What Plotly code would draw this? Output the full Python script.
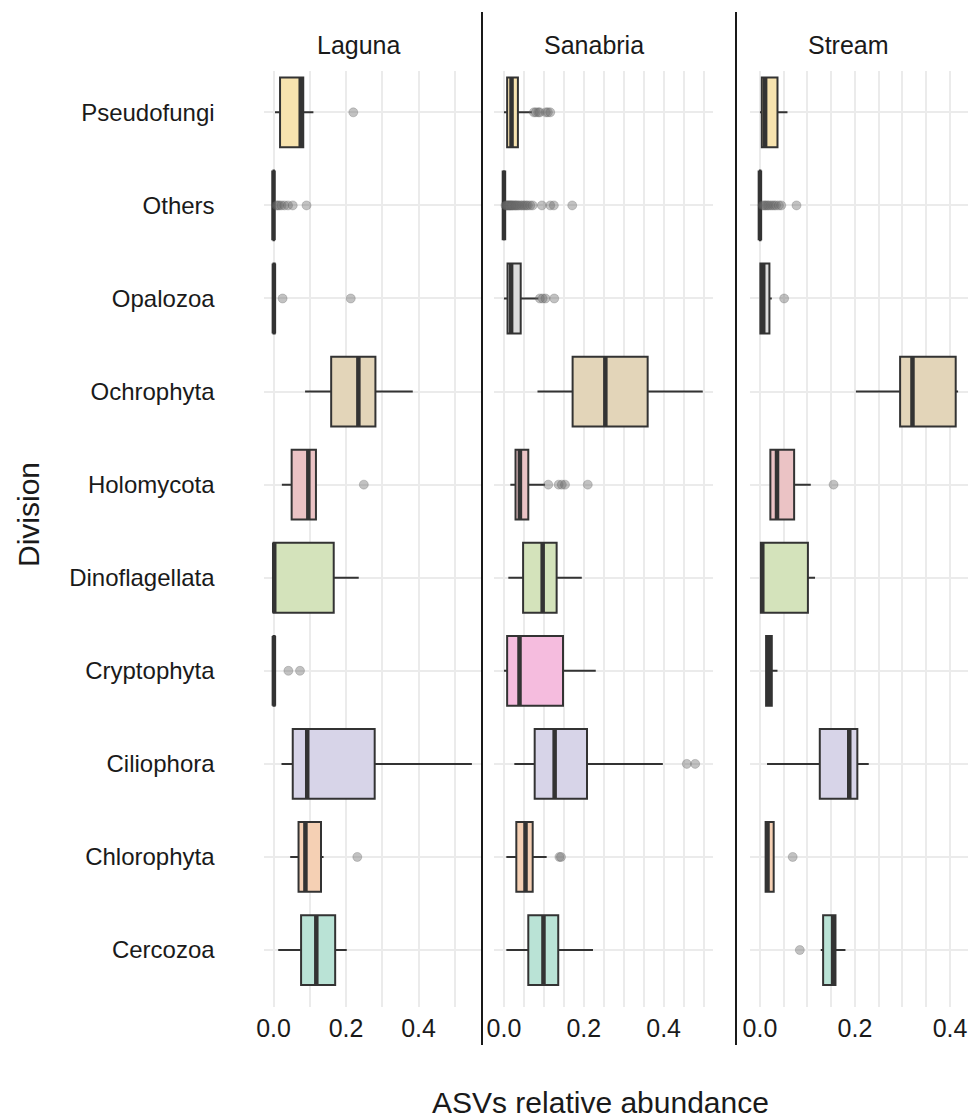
import plotly.graph_objects as go

# Categories (bottom -> top, as in the chart)
divisions = ["Cercozoa", "Chlorophyta", "Ciliophora", "Cryptophyta", "Dinoflagellata",
             "Holomycota", "Ochrophyta", "Opalozoa", "Others", "Pseudofungi"]
facets = ["Laguna", "Sanabria", "Stream"]
box_colors = ["#BAE3D6", "#F5D0B4", "#D7D4E8", "#F5BCDE", "#D4E3BB",
              "#EBC3C5", "#E3D5B9", "#DCDCDC", "#D0D0D0", "#F7E3AF"]

# ---- Laguna ----
laguna_low = [0.013, 0.046, 0.022, 0.000, 0.000, 0.023, 0.087, 0.000, 0.000, 0.004]
laguna_q1 = [0.076, 0.069, 0.053, 0.000, 0.000, 0.050, 0.159, 0.000, 0.000, 0.018]
laguna_med = [0.118, 0.088, 0.093, 0.001, 0.002, 0.096, 0.234, 0.001, 0.000, 0.075]
laguna_q3 = [0.170, 0.131, 0.279, 0.003, 0.166, 0.117, 0.281, 0.003, 0.001, 0.082]
laguna_high = [0.202, 0.138, 0.547, 0.005, 0.235, 0.117, 0.384, 0.005, 0.002, 0.110]
laguna_out = [[], [0.231], [], [0.041, 0.073], [], [0.249], [], [0.025, 0.213],
              [0.008, 0.012, 0.016, 0.022, 0.030, 0.040, 0.053, 0.091], [0.220]]

# ---- Sanabria ----
sanabria_low = [0.006, 0.006, 0.026, 0.000, 0.011, 0.016, 0.084, 0.000, 0.000, 0.000]
sanabria_q1 = [0.061, 0.031, 0.077, 0.008, 0.048, 0.029, 0.172, 0.009, 0.000, 0.008]
sanabria_med = [0.099, 0.054, 0.127, 0.039, 0.097, 0.040, 0.254, 0.018, 0.000, 0.019]
sanabria_q3 = [0.136, 0.072, 0.208, 0.148, 0.132, 0.061, 0.360, 0.042, 0.000, 0.035]
sanabria_high = [0.223, 0.107, 0.398, 0.230, 0.195, 0.103, 0.498, 0.086, 0.002, 0.070]
sanabria_out = [[], [0.139, 0.143], [0.458, 0.479], [], [], [0.111, 0.137, 0.145, 0.153, 0.210],
                [], [0.090, 0.097, 0.104, 0.126],
                [0.004, 0.006, 0.008, 0.010, 0.012, 0.014, 0.016, 0.018, 0.020, 0.022, 0.025,
                 0.028, 0.030, 0.033, 0.036, 0.040, 0.044, 0.048, 0.052, 0.056, 0.060, 0.066,
                 0.072, 0.095, 0.116, 0.125, 0.171],
                [0.075, 0.080, 0.086, 0.090, 0.105, 0.110, 0.116]]

# ---- Stream ----
stream_low = [0.128, 0.012, 0.015, 0.013, 0.000, 0.020, 0.202, 0.000, 0.000, 0.000]
stream_q1 = [0.133, 0.012, 0.126, 0.013, 0.002, 0.022, 0.295, 0.001, 0.000, 0.004]
stream_med = [0.154, 0.016, 0.188, 0.019, 0.005, 0.036, 0.321, 0.007, 0.000, 0.011]
stream_q3 = [0.159, 0.029, 0.205, 0.025, 0.101, 0.072, 0.412, 0.020, 0.001, 0.037]
stream_high = [0.180, 0.029, 0.229, 0.037, 0.116, 0.107, 0.417, 0.025, 0.002, 0.058]
stream_out = [[0.084], [0.069], [], [], [], [0.155], [], [0.051],
              [0.006, 0.009, 0.012, 0.015, 0.018, 0.022, 0.026, 0.030, 0.034, 0.040, 0.045, 0.077],
              []]

x_tick_vals = [0.0, 0.2, 0.4]
x_tick_text = ["0.0", "0.2", "0.4"]
minor_steps = [0.1, 0.05, 0.05]

stats = [
    (laguna_low, laguna_q1, laguna_med, laguna_q3, laguna_high, laguna_out),
    (sanabria_low, sanabria_q1, sanabria_med, sanabria_q3, sanabria_high, sanabria_out),
    (stream_low, stream_q1, stream_med, stream_q3, stream_high, stream_out),
]

# ---- layout geometry (page pixels; the page body has an 8px margin) ----
OFF = 8
W, H = 977 - OFF, 1119 - OFF


def px(x):
    return (x - OFF) / W


def py(y):
    return 1 - (y - OFF) / H


panel_px = [(263.6, 481.8), (494.0, 712.7), (750.0, 968.0)]
strip_x = [359, 594, 848]
panel_top, panel_bottom = 71, 1007
ydom = [py(panel_bottom), py(panel_top)]
BOX_W = 0.75
FONT = "Liberation Sans, Arial, Helvetica, sans-serif"
GRID = "#EBEBEB"
EDGE = "#333333"

fig = go.Figure()
layout = dict(
    width=W, height=H, autosize=False,
    margin=dict(l=0, r=0, t=0, b=0, pad=0),
    paper_bgcolor="white", plot_bgcolor="white",
    showlegend=False, boxmode="overlay",
    font=dict(family=FONT, color="#1a1a1a"),
    annotations=[], shapes=[],
)

positions = list(range(len(divisions)))

for f, name in enumerate(facets):
    lo, q1, med, q3, hi, outs = stats[f]
    xa = "x" if f == 0 else f"x{f+1}"
    ya = "y" if f == 0 else f"y{f+1}"
    for i, d in enumerate(divisions):
        fig.add_trace(go.Box(
            y=[positions[i]], q1=[q1[i]], median=[med[i]], q3=[q3[i]],
            lowerfence=[lo[i]], upperfence=[hi[i]],
            orientation="h", width=BOX_W, fillcolor=box_colors[i],
            line=dict(color=EDGE, width=2), whiskerwidth=0,
            boxpoints=False, xaxis=xa, yaxis=ya, hoverinfo="skip"))
    # thick median lines
    mx, my = [], []
    for i in range(len(divisions)):
        mx += [med[i], med[i], None]
        my += [positions[i] - BOX_W / 2, positions[i] + BOX_W / 2, None]
    fig.add_trace(go.Scatter(x=mx, y=my, mode="lines", line=dict(color=EDGE, width=4.5),
                             xaxis=xa, yaxis=ya, hoverinfo="skip"))
    # outliers
    ox, oy = [], []
    for i in range(len(divisions)):
        for v in outs[i]:
            ox.append(v)
            oy.append(positions[i])
    fig.add_trace(go.Scatter(x=ox, y=oy, mode="markers",
                             marker=dict(size=9, color="rgba(110,110,110,0.42)",
                                         line=dict(width=0.6, color="rgba(90,90,90,0.45)")),
                             xaxis=xa, yaxis=ya, hoverinfo="skip"))

    # axis range from data with 5% expansion
    allv = lo + hi + [v for o in outs for v in o]
    vmin, vmax = min(allv), max(allv)
    pad = 0.05 * (vmax - vmin)
    x0, x1 = panel_px[f]
    key_x = "xaxis" if f == 0 else f"xaxis{f+1}"
    key_y = "yaxis" if f == 0 else f"yaxis{f+1}"
    layout[key_x] = dict(
        domain=[px(x0), px(x1)], range=[vmin - pad, vmax + pad], anchor=ya,
        tickvals=x_tick_vals, ticktext=x_tick_text, tickfont=dict(size=25, color="#1a1a1a"),
        showgrid=True, gridcolor=GRID, gridwidth=1.6, zeroline=False, showline=False,
        ticks="", ticklabelstandoff=4, automargin=False,
        minor=dict(dtick=minor_steps[f], tick0=0, showgrid=True, gridcolor=GRID, gridwidth=1.6),
    )
    layout[key_y] = dict(
        domain=ydom, range=[-0.612, len(divisions) - 1 + 0.444], anchor=xa,
        tickvals=positions, ticktext=divisions, showticklabels=(f == 0),
        tickfont=dict(size=24, color="#1a1a1a"),
        showgrid=True, gridcolor=GRID, gridwidth=1.6, zeroline=False, showline=False,
        ticks="", ticklabelstandoff=48, automargin=False,
    )
    layout["annotations"].append(dict(
        text=name, x=px(strip_x[f]), y=py(45), xref="paper", yref="paper",
        showarrow=False, font=dict(size=25, color="#1a1a1a"), xanchor="center", yanchor="middle"))

# separator lines between facets
for sx in [482, 736]:
    layout["shapes"].append(dict(type="line", xref="paper", yref="paper",
                                 x0=px(sx), x1=px(sx), y0=py(1045), y1=py(12),
                                 line=dict(color="black", width=1.8)))

layout["annotations"].append(dict(
    text="Division", x=px(28), y=py(515), xref="paper", yref="paper", textangle=-90,
    showarrow=False, font=dict(size=30, color="#1a1a1a"), xanchor="center", yanchor="middle"))
layout["annotations"].append(dict(
    text="ASVs relative abundance", x=px(600), y=py(1102), xref="paper", yref="paper",
    showarrow=False, font=dict(size=30, color="#1a1a1a"), xanchor="center", yanchor="middle"))

fig.update_layout(**layout)
fig.write_html("out.html")
